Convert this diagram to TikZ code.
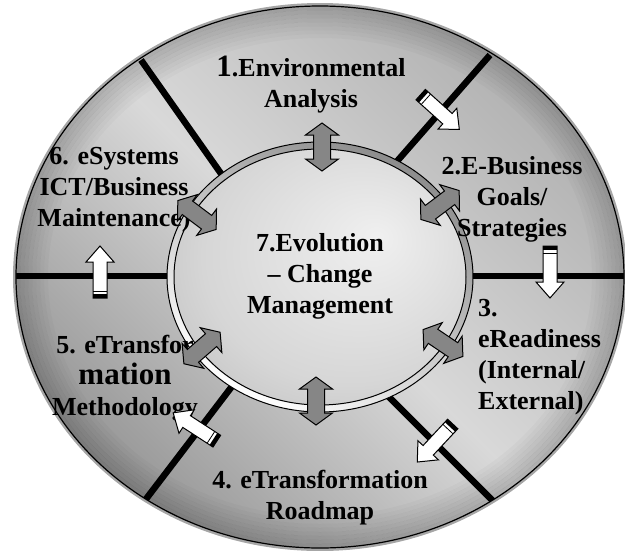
\documentclass[tikz,border=0pt]{standalone}
\usepackage{fontspec}
\setmainfont{Liberation Serif}
\usepackage{tikz}

% light spot towards the upper right of the centre disc
\pgfdeclareradialshading{discshade}{\pgfpoint{10bp}{8bp}}{%
    color(0bp)=(gray!12); color(25bp)=(gray!32); color(45bp)=(gray!62); color(50bp)=(gray!72)}

\tikzset{
    divider/.style={line width=6.5pt},
    phase/.style={font=\fontsize{26}{31}\selectfont\bfseries, align=center, inner sep=0pt},
    % two-headed grey arrow across the inner ring
    dblarrow/.pic={
        \draw[fill=gray!95, line width=1pt] (-24,0) -- (-12,-16.5) -- (-12,-8.5) -- (12,-8.5)
            -- (12,-16.5) -- (24,0) -- (12,16.5) -- (12,8.5) -- (-12,8.5) -- (-12,16.5) -- cycle;
    },
    % white step arrow, points along +x
    fwdarrow/.pic={
        \draw[fill=white, line width=1pt] (-26,-7) -- (10,-7) -- (10,-14) -- (26,0)
            -- (10,14) -- (10,7) -- (-26,7) -- cycle;
        \fill (-26,-7) rectangle (-22,7);
        \draw[line width=.8pt] (-19,-7) -- (-19,7);
    }
}

\begin{document}
\begin{tikzpicture}[x=1pt, y=-1pt]
    \useasboundingbox (0,0) rectangle (625,550);

    % outer disc with the six sectors
    \begin{scope}
        \clip (320,277) ellipse [x radius=304pt, y radius=271pt];
        \shade[top color=gray!62, bottom color=gray!85, middle color=gray!30, shading angle=-45]
            (0,0) rectangle (625,550);
        \foreach \k [evaluate=\k as \op using 0.022*(8-\k)] in {0,...,7}
            \draw[black, opacity=\op, line width=4pt] (320,277)
                ellipse [x radius={(302-4*\k)*1pt}, y radius={(269-4*\k)*1pt}];

        \coordinate (ne-out) at (490,55);   \coordinate (ne-in) at (392,167);
        \coordinate (e-out)  at (630,276);  \coordinate (e-in)  at (468,276);
        \coordinate (se-out) at (494,502);  \coordinate (se-in) at (385,393);
        \coordinate (sw-out) at (143,503);  \coordinate (sw-in) at (233,385);
        \coordinate (w-out)  at (5,276);    \coordinate (w-in)  at (172,276);
        \coordinate (nw-out) at (141,60);   \coordinate (nw-in) at (222,175);
        \foreach \d in {ne,e,se,sw,w,nw}
            \draw[divider] (\d-out) -- (\d-in);
    \end{scope}
    \draw[gray!70, line width=3pt] (320,277) ellipse [x radius=305.5pt, y radius=272.5pt];
    \draw[line width=1.2pt] (320,277) ellipse [x radius=304pt, y radius=271pt];

    % inner ring and centre disc
    \shadedraw[top color=gray!90, bottom color=white, middle color=gray!45, shading angle=-30, line width=1pt]
        (320,277) ellipse [x radius=153pt, y radius=135pt];
    \shadedraw[shading=discshade, line width=1pt] (320,277) ellipse [x radius=146pt, y radius=128pt];

    % phases
    \node[phase] (envan) at (311,85) {{\fontsize{31}{31}\selectfont 1}.Environmental\\Analysis};
    \node[phase] (goals) at (512,199) {2.E-Business\\Goals/\\Strategies};
    \node[phase, align=left, anchor=west] (ready) at (478,357) {3.\\eReadiness\\(Internal/\\External)};
    \node[phase] (roadmap) at (320,498) {4. eTransformation\\Roadmap};
    \node[phase] (method) at (125,378) {5. eTransfor\\{\fontsize{31}{34}\selectfont mation}\\Methodology};
    \node[phase] (maint) at (114,190) {6. eSystems\\ICT/Business\\Maintenance)};
    \node[phase] (change) at (320,276) {7.Evolution\\-- Change\\Management};

    % links between the centre and each phase
    \pic[rotate=90]  at (322,147) {dblarrow};
    \pic[rotate=37]  at (440,205) {dblarrow};
    \pic[rotate=-34] at (443,343) {dblarrow};
    \pic[rotate=90]  at (316,401) {dblarrow};
    \pic[rotate=41]  at (202,348) {dblarrow};
    \pic[rotate=-37] at (197,215) {dblarrow};

    % steps from one phase to the next
    \pic[rotate=-42]  at (440,112) {fwdarrow};
    \pic[rotate=-90]  at (550,272) {fwdarrow};
    \pic[rotate=-133] at (435,443) {fwdarrow};
    \pic[rotate=147]  at (195,427) {fwdarrow};
    \pic[rotate=90]   at (100,272) {fwdarrow};
\end{tikzpicture}
\end{document}
